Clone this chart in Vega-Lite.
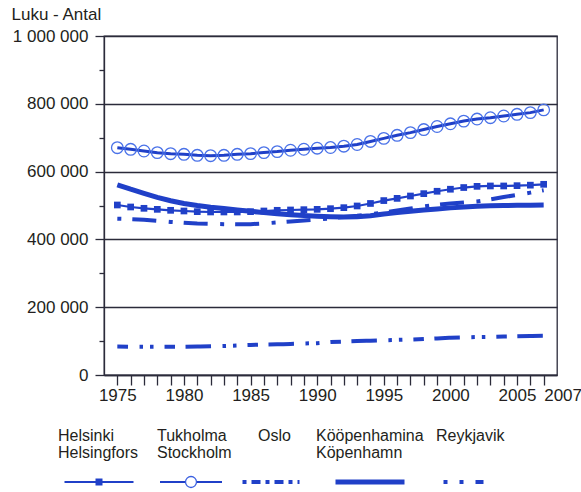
{
  "$schema": "https://vega.github.io/schema/vega-lite/v6.json",
  "background": "white",
  "padding": {"left": 10, "top": 4, "right": 2, "bottom": 0},
  "config": {"font": "Liberation Sans", "view": {"stroke": null}},
  "datasets": {
    "pop": [
      {"year":1975,"city":"Reykjavik","v":84000},{"year":1976,"city":"Reykjavik","v":83500},{"year":1977,"city":"Reykjavik","v":83500},{"year":1978,"city":"Reykjavik","v":83500},{"year":1979,"city":"Reykjavik","v":83500},{"year":1980,"city":"Reykjavik","v":83500},{"year":1981,"city":"Reykjavik","v":84000},{"year":1982,"city":"Reykjavik","v":84500},{"year":1983,"city":"Reykjavik","v":85500},{"year":1984,"city":"Reykjavik","v":87000},{"year":1985,"city":"Reykjavik","v":88500},{"year":1986,"city":"Reykjavik","v":90000},{"year":1987,"city":"Reykjavik","v":90500},{"year":1988,"city":"Reykjavik","v":91500},{"year":1989,"city":"Reykjavik","v":93000},{"year":1990,"city":"Reykjavik","v":94000},{"year":1991,"city":"Reykjavik","v":97000},{"year":1992,"city":"Reykjavik","v":98500},{"year":1993,"city":"Reykjavik","v":100000},{"year":1994,"city":"Reykjavik","v":101000},{"year":1995,"city":"Reykjavik","v":102500},{"year":1996,"city":"Reykjavik","v":103500},{"year":1997,"city":"Reykjavik","v":104500},{"year":1998,"city":"Reykjavik","v":106000},{"year":1999,"city":"Reykjavik","v":108000},{"year":2000,"city":"Reykjavik","v":110000},{"year":2001,"city":"Reykjavik","v":111000},{"year":2002,"city":"Reykjavik","v":112000},{"year":2003,"city":"Reykjavik","v":112500},{"year":2004,"city":"Reykjavik","v":113500},{"year":2005,"city":"Reykjavik","v":114000},{"year":2006,"city":"Reykjavik","v":115000},{"year":2007,"city":"Reykjavik","v":115500},
      {"year":1975,"city":"Kööpenhamina","v":561000},{"year":1976,"city":"Kööpenhamina","v":548000},{"year":1977,"city":"Kööpenhamina","v":536000},{"year":1978,"city":"Kööpenhamina","v":524000},{"year":1979,"city":"Kööpenhamina","v":514000},{"year":1980,"city":"Kööpenhamina","v":506000},{"year":1981,"city":"Kööpenhamina","v":500000},{"year":1982,"city":"Kööpenhamina","v":495000},{"year":1983,"city":"Kööpenhamina","v":491000},{"year":1984,"city":"Kööpenhamina","v":487000},{"year":1985,"city":"Kööpenhamina","v":483000},{"year":1986,"city":"Kööpenhamina","v":479000},{"year":1987,"city":"Kööpenhamina","v":476000},{"year":1988,"city":"Kööpenhamina","v":473000},{"year":1989,"city":"Kööpenhamina","v":470500},{"year":1990,"city":"Kööpenhamina","v":468500},{"year":1991,"city":"Kööpenhamina","v":467000},{"year":1992,"city":"Kööpenhamina","v":466000},{"year":1993,"city":"Kööpenhamina","v":467000},{"year":1994,"city":"Kööpenhamina","v":470000},{"year":1995,"city":"Kööpenhamina","v":475000},{"year":1996,"city":"Kööpenhamina","v":479000},{"year":1997,"city":"Kööpenhamina","v":483000},{"year":1998,"city":"Kööpenhamina","v":486500},{"year":1999,"city":"Kööpenhamina","v":490000},{"year":2000,"city":"Kööpenhamina","v":493000},{"year":2001,"city":"Kööpenhamina","v":495500},{"year":2002,"city":"Kööpenhamina","v":497500},{"year":2003,"city":"Kööpenhamina","v":499000},{"year":2004,"city":"Kööpenhamina","v":500000},{"year":2005,"city":"Kööpenhamina","v":500500},{"year":2006,"city":"Kööpenhamina","v":501000},{"year":2007,"city":"Kööpenhamina","v":501500},
      {"year":1975,"city":"Oslo","v":461000},{"year":1976,"city":"Oslo","v":460000},{"year":1977,"city":"Oslo","v":458000},{"year":1978,"city":"Oslo","v":455000},{"year":1979,"city":"Oslo","v":451500},{"year":1980,"city":"Oslo","v":449000},{"year":1981,"city":"Oslo","v":447000},{"year":1982,"city":"Oslo","v":446000},{"year":1983,"city":"Oslo","v":445000},{"year":1984,"city":"Oslo","v":444500},{"year":1985,"city":"Oslo","v":445000},{"year":1986,"city":"Oslo","v":447000},{"year":1987,"city":"Oslo","v":450000},{"year":1988,"city":"Oslo","v":453000},{"year":1989,"city":"Oslo","v":456000},{"year":1990,"city":"Oslo","v":459000},{"year":1991,"city":"Oslo","v":462000},{"year":1992,"city":"Oslo","v":466000},{"year":1993,"city":"Oslo","v":469500},{"year":1994,"city":"Oslo","v":474000},{"year":1995,"city":"Oslo","v":479000},{"year":1996,"city":"Oslo","v":485000},{"year":1997,"city":"Oslo","v":491000},{"year":1998,"city":"Oslo","v":497000},{"year":1999,"city":"Oslo","v":502000},{"year":2000,"city":"Oslo","v":506000},{"year":2001,"city":"Oslo","v":509000},{"year":2002,"city":"Oslo","v":512000},{"year":2003,"city":"Oslo","v":518000},{"year":2004,"city":"Oslo","v":525000},{"year":2005,"city":"Oslo","v":531000},{"year":2006,"city":"Oslo","v":538000},{"year":2007,"city":"Oslo","v":545000},
      {"year":1975,"city":"Helsinki","v":501500},{"year":1976,"city":"Helsinki","v":495600},{"year":1977,"city":"Helsinki","v":491700},{"year":1978,"city":"Helsinki","v":488700},{"year":1979,"city":"Helsinki","v":485800},{"year":1980,"city":"Helsinki","v":483800},{"year":1981,"city":"Helsinki","v":481800},{"year":1982,"city":"Helsinki","v":480900},{"year":1983,"city":"Helsinki","v":480900},{"year":1984,"city":"Helsinki","v":480900},{"year":1985,"city":"Helsinki","v":481800},{"year":1986,"city":"Helsinki","v":483800},{"year":1987,"city":"Helsinki","v":485800},{"year":1988,"city":"Helsinki","v":486800},{"year":1989,"city":"Helsinki","v":487700},{"year":1990,"city":"Helsinki","v":488700},{"year":1991,"city":"Helsinki","v":490600},{"year":1992,"city":"Helsinki","v":493600},{"year":1993,"city":"Helsinki","v":498600},{"year":1994,"city":"Helsinki","v":506000},{"year":1995,"city":"Helsinki","v":514500},{"year":1996,"city":"Helsinki","v":521000},{"year":1997,"city":"Helsinki","v":528000},{"year":1998,"city":"Helsinki","v":535000},{"year":1999,"city":"Helsinki","v":542000},{"year":2000,"city":"Helsinki","v":548000},{"year":2001,"city":"Helsinki","v":553000},{"year":2002,"city":"Helsinki","v":556500},{"year":2003,"city":"Helsinki","v":557600},{"year":2004,"city":"Helsinki","v":557600},{"year":2005,"city":"Helsinki","v":558500},{"year":2006,"city":"Helsinki","v":560000},{"year":2007,"city":"Helsinki","v":562500},
      {"year":1975,"city":"Stockholm","v":670600},{"year":1976,"city":"Stockholm","v":665700},{"year":1977,"city":"Stockholm","v":660800},{"year":1978,"city":"Stockholm","v":655900},{"year":1979,"city":"Stockholm","v":652900},{"year":1980,"city":"Stockholm","v":651000},{"year":1981,"city":"Stockholm","v":648000},{"year":1982,"city":"Stockholm","v":647000},{"year":1983,"city":"Stockholm","v":648000},{"year":1984,"city":"Stockholm","v":651000},{"year":1985,"city":"Stockholm","v":653000},{"year":1986,"city":"Stockholm","v":656000},{"year":1987,"city":"Stockholm","v":659000},{"year":1988,"city":"Stockholm","v":663000},{"year":1989,"city":"Stockholm","v":666000},{"year":1990,"city":"Stockholm","v":669000},{"year":1991,"city":"Stockholm","v":671000},{"year":1992,"city":"Stockholm","v":675000},{"year":1993,"city":"Stockholm","v":680000},{"year":1994,"city":"Stockholm","v":689000},{"year":1995,"city":"Stockholm","v":698000},{"year":1996,"city":"Stockholm","v":707000},{"year":1997,"city":"Stockholm","v":715000},{"year":1998,"city":"Stockholm","v":724000},{"year":1999,"city":"Stockholm","v":733000},{"year":2000,"city":"Stockholm","v":741000},{"year":2001,"city":"Stockholm","v":749000},{"year":2002,"city":"Stockholm","v":755000},{"year":2003,"city":"Stockholm","v":759000},{"year":2004,"city":"Stockholm","v":764000},{"year":2005,"city":"Stockholm","v":769000},{"year":2006,"city":"Stockholm","v":774000},{"year":2007,"city":"Stockholm","v":782000}
    ],
    "leg": [
      {"city":"Helsinki","label":"Helsinki\nHelsingfors"},
      {"city":"Stockholm","label":"Tukholma\nStockholm"},
      {"city":"Oslo","label":"Oslo"},
      {"city":"Kööpenhamina","label":"Kööpenhamina\nKöpenhamn"},
      {"city":"Reykjavik","label":"Reykjavik"}
    ]
  },
  "spacing": 22,
  "vconcat": [
    {
      "width": 453,
      "height": 339,
      "view": {"stroke": "#2b2b3a", "strokeWidth": 1.3},
      "data": {"name": "pop"},
      "encoding": {
        "x": {
          "field": "year", "type": "quantitative",
          "scale": {"domain": [1974, 2008], "nice": false, "zero": false},
          "axis": {
            "title": null,
            "values": [1975,1976,1977,1978,1979,1980,1981,1982,1983,1984,1985,1986,1987,1988,1989,1990,1991,1992,1993,1994,1995,1996,1997,1998,1999,2000,2001,2002,2003,2004,2005,2006,2007],
            "format": "d",
            "labelExpr": "(datum.value - 1975) % 5 == 0 || datum.value == 2007 ? datum.label : ''",
            "labelAlign": {"condition": {"test": "datum.value == 2007", "value": "left"}, "value": "center"},
            "labelOverlap": false,
            "labelFlush": false,
            "labelFontSize": 17,
            "labelColor": "#231f20",
            "labelPadding": 2,
            "tickSize": 10,
            "tickWidth": 1.3,
            "tickColor": "#2b2b3a",
            "domainColor": "#2b2b3a",
            "domainWidth": 1.3,
            "grid": false
          }
        },
        "y": {
          "field": "v", "type": "quantitative",
          "scale": {"domain": [0, 1000000], "nice": false},
          "axis": {
            "title": "Luku - Antal",
            "titleAngle": 0,
            "titleAlign": "left",
            "titleBaseline": "alphabetic",
            "titleX": -93,
            "titleY": -17,
            "titleFontSize": 17,
            "titleFontWeight": "normal",
            "titleColor": "#231f20",
            "values": [0,100000,200000,300000,400000,500000,600000,700000,800000,900000,1000000],
            "labelExpr": "datum.value % 200000 == 0 ? replace(replace(format(datum.value, ','), ',', ' '), ',', ' ') : ''",
            "labelFontSize": 17,
            "labelColor": "#231f20",
            "labelPadding": 7,
            "labelFlush": false,
            "labelOverlap": false,
            "tickSize": {"condition": {"test": "datum.value % 200000 == 0", "value": 9}, "value": 5},
            "tickWidth": 1.3,
            "tickColor": "#2b2b3a",
            "domainColor": "#2b2b3a",
            "domainWidth": 1.3,
            "grid": true,
            "gridColor": "#2b2b3a",
            "gridWidth": 1.3,
            "gridOpacity": {"condition": {"test": "datum.value % 200000 == 0", "value": 1}, "value": 0}
          }
        }
      },
      "layer": [
        {
          "transform": [{"filter": "datum.city == 'Reykjavik'"}],
          "mark": {"type": "line", "color": "#2040c8", "strokeWidth": 4, "strokeCap": "butt", "strokeDash": [10.7, 11.5, 3.5, 7, 3.5, 11, 10.5, 10.5, 14.8, 0]}
        },
        {
          "transform": [{"filter": "datum.city == 'Kööpenhamina'"}],
          "mark": {"type": "line", "color": "#2040c8", "strokeWidth": 5, "strokeCap": "butt"}
        },
        {
          "transform": [{"filter": "datum.city == 'Oslo'"}],
          "mark": {"type": "line", "color": "#2040c8", "strokeWidth": 4, "strokeCap": "butt", "strokeDash": [4, 11, 24, 12.5]}
        },
        {
          "transform": [{"filter": "datum.city == 'Helsinki'"}],
          "mark": {"type": "line", "color": "#2040c8", "strokeWidth": 2.2}
        },
        {
          "transform": [{"filter": "datum.city == 'Helsinki'"}],
          "mark": {"type": "point", "shape": "square", "filled": true, "color": "#2040c8", "size": 45, "opacity": 1}
        },
        {
          "transform": [{"filter": "datum.city == 'Stockholm'"}],
          "mark": {"type": "line", "color": "#2040c8", "strokeWidth": 3}
        },
        {
          "transform": [{"filter": "datum.city == 'Stockholm'"}],
          "mark": {"type": "point", "shape": "circle", "filled": false, "color": "#4a72e8", "size": 135, "strokeWidth": 1.3, "opacity": 1}
        }
      ]
    },
    {
      "width": 453,
      "height": 60,
      "view": {"stroke": null},
      "data": {"name": "leg"},
      "encoding": {
        "x": {
          "field": "city", "type": "nominal",
          "scale": {"type": "point", "domain": ["Helsinki","Stockholm","Oslo","Kööpenhamina","Reykjavik"], "range": [-5, 363], "padding": 0},
          "axis": null
        }
      },
      "layer": [
        {
          "transform": [{"filter": "datum.city == 'Helsinki' || datum.city == 'Stockholm'"}],
          "mark": {"type": "point", "shape": "M-1,0H1", "filled": false, "color": "#2040c8", "opacity": 1, "yOffset": 26, "strokeWidth": 2, "strokeCap": "butt"},
          "encoding": {
            "size": {"field": "city", "type": "ordinal", "scale": {"domain": ["Helsinki","Stockholm"], "range": [4761, 3844]}, "legend": null}
          }
        },
        {
          "transform": [{"filter": "datum.city == 'Oslo'"}],
          "mark": {"type": "point", "shape": "M-1,0H1", "filled": false, "color": "#2040c8", "opacity": 1, "yOffset": 26, "xOffset": -12, "size": 3249, "strokeWidth": 4, "strokeCap": "butt", "strokeDash": [4, 5, 9, 5, 4, 5, 9, 5]}
        },
        {
          "transform": [{"filter": "datum.city == 'Kööpenhamina'"}],
          "mark": {"type": "point", "shape": "M-1,0H1", "filled": false, "color": "#2040c8", "opacity": 1, "yOffset": 26, "xOffset": -5, "size": 4761, "strokeWidth": 5, "strokeCap": "butt"}
        },
        {
          "transform": [{"filter": "datum.city == 'Reykjavik'"}],
          "mark": {"type": "point", "shape": "M-1,0H1", "filled": false, "color": "#2040c8", "opacity": 1, "yOffset": 26, "size": 2209, "strokeWidth": 4, "strokeCap": "butt", "strokeDash": [4, 12, 4, 12, 8, 12]}
        },
        {
          "transform": [{"filter": "datum.city == 'Helsinki'"}],
          "mark": {"type": "point", "shape": "square", "filled": true, "color": "#2040c8", "size": 49, "opacity": 1, "yOffset": 26}
        },
        {
          "transform": [{"filter": "datum.city == 'Stockholm'"}],
          "mark": {"type": "point", "shape": "circle", "filled": false, "fill": "white", "fillOpacity": 1, "stroke": "#3a5fe0", "size": 120, "strokeWidth": 1.3, "opacity": 1, "yOffset": 26}
        },
        {
          "transform": [{"filter": "datum.city == 'Helsinki'"}],
          "mark": {"type": "text", "lineBreak": "\n", "align": "left", "baseline": "top", "fontSize": 16, "lineHeight": 17, "dy": -28, "dx": -41, "color": "#231f20"},
          "encoding": {"text": {"field": "label", "type": "nominal"}}
        },
        {
          "transform": [{"filter": "datum.city == 'Stockholm'"}],
          "mark": {"type": "text", "lineBreak": "\n", "align": "left", "baseline": "top", "fontSize": 16, "lineHeight": 17, "dy": -28, "dx": -34, "color": "#231f20"},
          "encoding": {"text": {"field": "label", "type": "nominal"}}
        },
        {
          "transform": [{"filter": "datum.city == 'Oslo'"}],
          "mark": {"type": "text", "lineBreak": "\n", "align": "left", "baseline": "top", "fontSize": 16, "lineHeight": 17, "dy": -28, "dx": -25, "color": "#231f20"},
          "encoding": {"text": {"field": "label", "type": "nominal"}}
        },
        {
          "transform": [{"filter": "datum.city == 'Kööpenhamina'"}],
          "mark": {"type": "text", "lineBreak": "\n", "align": "left", "baseline": "top", "fontSize": 16, "lineHeight": 17, "dy": -28, "dx": -59, "color": "#231f20"},
          "encoding": {"text": {"field": "label", "type": "nominal"}}
        },
        {
          "transform": [{"filter": "datum.city == 'Reykjavik'"}],
          "mark": {"type": "text", "lineBreak": "\n", "align": "left", "baseline": "top", "fontSize": 16, "lineHeight": 17, "dy": -28, "dx": -31, "color": "#231f20"},
          "encoding": {"text": {"field": "label", "type": "nominal"}}
        }
      ]
    }
  ]
}
